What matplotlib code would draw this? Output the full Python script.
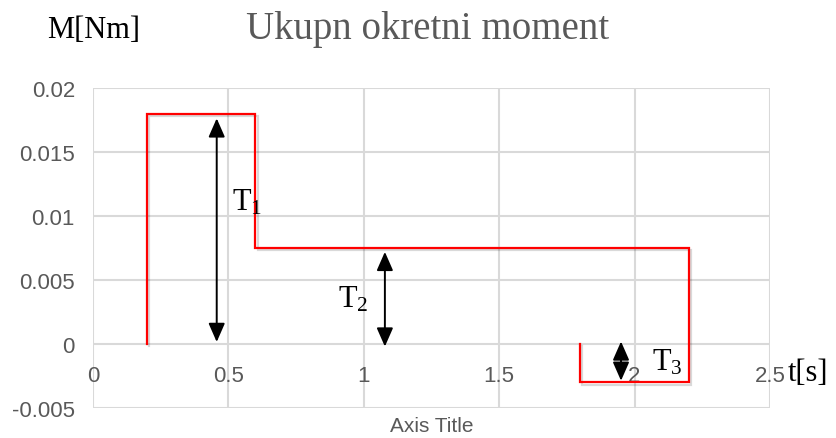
import numpy as np
import matplotlib.pyplot as plt
import matplotlib.patheffects as pe

plt.rcParams['mathtext.fontset'] = 'custom'
plt.rcParams['mathtext.rm'] = 'Liberation Serif'
plt.rcParams['mathtext.it'] = 'Liberation Serif'

# Torque step profile (time in s, torque in Nm)
t_vals = [0.2, 0.2, 0.6, 0.6, 2.2, 2.2, 1.8, 1.8]
m_vals = [0.0, 0.018, 0.018, 0.0075, 0.0075, -0.003, -0.003, 0.0]

# Double arrows marking the torque levels: x, y_top, y_bottom
arrow_x = [0.457, 1.078, 1.95]
arrow_top = [0.01763, 0.0072, 0.0002]
arrow_bot = [0.00016, -0.0002, -0.00287]
arrow_labels = [r'T$_1$', r'T$_2$', r'T$_3$']
label_pos = [(0.515, 0.0111), (0.905, 0.0035), (2.064, -0.0014)]

x_ticks = [0, 0.5, 1, 1.5, 2, 2.5]
x_tick_labels = ['0', '0.5', '1', '1.5', '2', '2.5']
y_ticks = [-0.005, 0, 0.005, 0.01, 0.015, 0.02]
y_tick_labels = ['-0.005', '0', '0.005', '0.01', '0.015', '0.02']

grey = '#595959'
grid_c = '#d9d9d9'

fig = plt.figure(figsize=(8.36, 4.39), dpi=100)
ax = fig.add_axes((0.1112, 0.0683, 0.8098, 0.7289))

ax.set_xlim(0, 2.5)
ax.set_ylim(-0.005, 0.02)
ax.set_xticks(x_ticks)
ax.set_xticklabels(x_tick_labels)
ax.set_yticks(y_ticks)
ax.set_yticklabels(y_tick_labels)
ax.grid(True, color=grid_c, lw=1.5)
ax.set_axisbelow(True)
for s in ax.spines.values():
    s.set_visible(False)
ax.spines['bottom'].set_position(('data', 0))
ax.tick_params(length=0, labelsize=16, labelcolor=grey)
ax.tick_params(axis='x', pad=15)
ax.tick_params(axis='y', pad=13)
for lab in ax.get_xticklabels() + ax.get_yticklabels():
    lab.set_fontfamily('Liberation Sans')

ax.plot(t_vals, m_vals, color='#ff0000', lw=1.6, solid_joinstyle='miter',
        path_effects=[pe.SimpleLineShadow(offset=(1.5, -1.5), shadow_color='k', alpha=0.15),
                      pe.Normal()])

for x, top, bot in zip(arrow_x, arrow_top, arrow_bot):
    ax.annotate('', xy=(x, top), xytext=(x, bot),
                arrowprops=dict(arrowstyle='<|-|>,head_length=0.57,head_width=0.25',
                                color='black', lw=1.4,
                                mutation_scale=20, shrinkA=0, shrinkB=0))

for lab, (x, y) in zip(arrow_labels, label_pos):
    ax.text(x, y, lab, fontsize=22, family='Liberation Serif', ha='left', va='center')

fig.text(0.056, 0.93, 'M[Nm]', fontsize=22, family='Liberation Serif', va='center')
fig.text(0.511, 0.932, 'Ukupn okretni moment', fontsize=28, family='Liberation Serif',
         color=grey, ha='center', va='center')
fig.text(0.942, 0.15, 't[s]', fontsize=22, family='Liberation Serif', va='center')
fig.text(0.517, 0.028, 'Axis Title', fontsize=15, family='Liberation Sans',
         color=grey, ha='center', va='center')

fig.savefig('out.png', dpi=100)
